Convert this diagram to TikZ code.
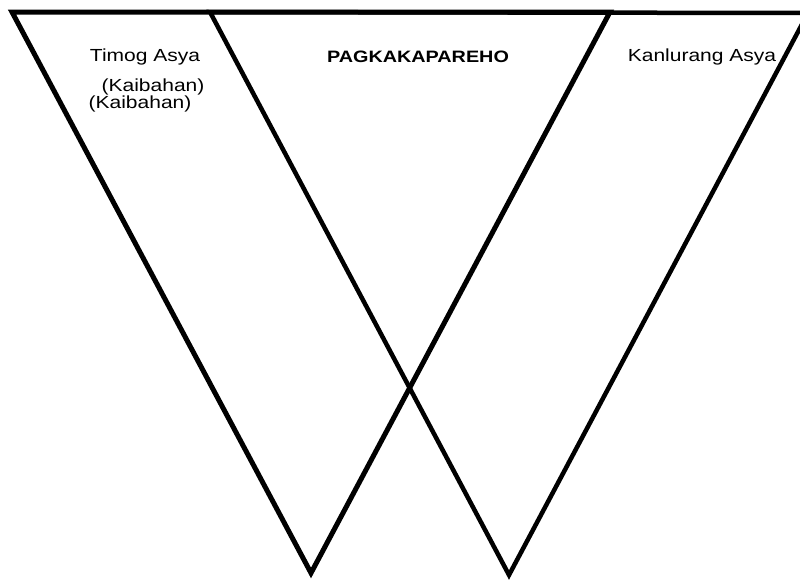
\documentclass[tikz,border=0pt]{standalone}
\usepackage{fontspec}
\setmainfont{Liberation Sans}
\newfontfamily\vennfont[FakeStretch=1.2]{Liberation Sans}
\usetikzlibrary{positioning}

\tikzset{
  vennlabel/.style={font=\vennfont\fontsize{17.5}{21}\selectfont, inner sep=0pt, text=black},
  vennedge/.style={draw=black, line width=5pt}
}

\begin{document}
\begin{tikzpicture}[x=1pt, y=-1pt]
  \useasboundingbox (0,0) rectangle (800,584);
  \clip (0,0) rectangle (800,584);

  %--- Two inverted triangles ---
  % right triangle (Kanlurang Asya)
  \draw[vennedge, line width=4.5pt] (210,12) -- (808,13) -- (509,575) -- cycle;
  % left triangle (Timog Asya)
  \draw[vennedge] (12,12) -- (610,12) -- (311,573) -- cycle;

  %--- Labels ---
  \node[vennlabel] (timog) at (145,57) {Timog Asya};
  \node[vennlabel] (kaib1) at (153,87) {(Kaibahan)};
  \node[vennlabel] (kaib2) at (140,104) {(Kaibahan)};
  \node[vennlabel, font=\vennfont\bfseries\fontsize{16.5}{20}\selectfont] (pareho) at (418,57) {PAGKAKAPAREHO};
  \node[vennlabel] (kanluran) at (702,57) {Kanlurang Asya};
\end{tikzpicture}
\end{document}
